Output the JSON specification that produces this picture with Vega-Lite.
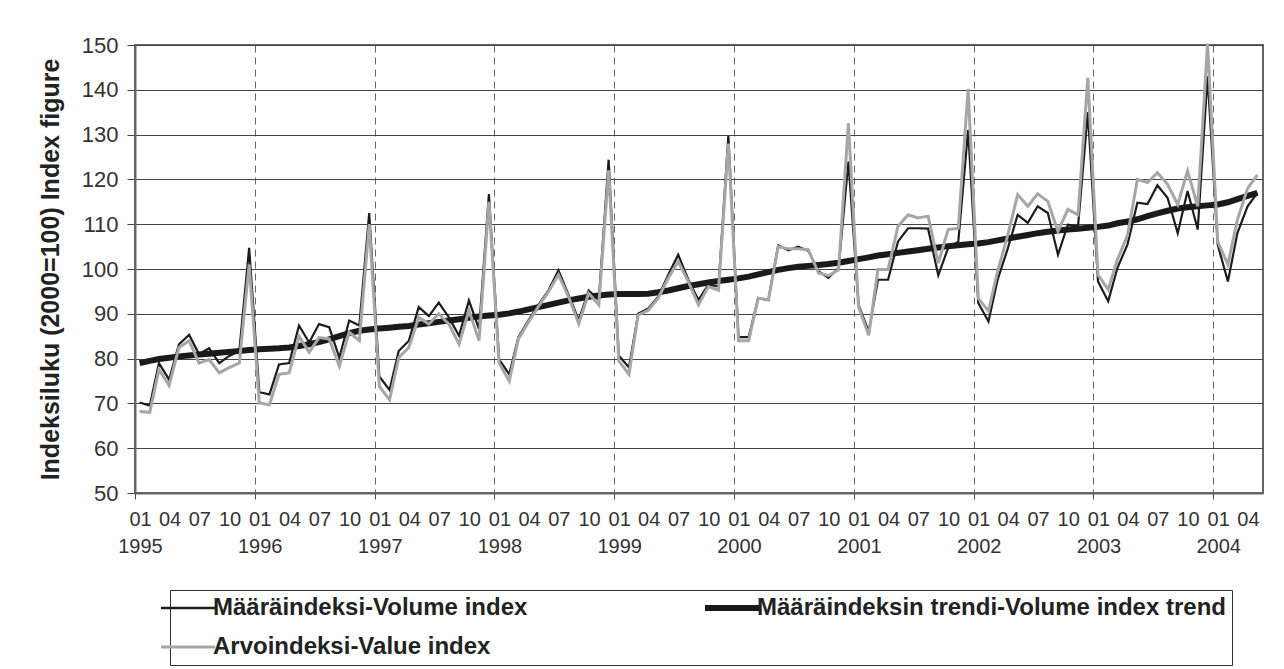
{
  "$schema": "https://vega.github.io/schema/vega-lite/v6.json",
  "autosize": "none",
  "width": 1128,
  "height": 448,
  "padding": {"left": 135, "top": 45, "right": 21, "bottom": 176},
  "background": "white",
  "config": {
    "font": "Liberation Sans",
    "view": {"stroke": "#666", "strokeWidth": 2}
  },
  "data": {"values": [
    {"d":"1995-01-15","vol":70.2,"val":68.2,"trend":79.0},
    {"d":"1995-02-15","vol":69.5,"val":68.0,"trend":79.5},
    {"d":"1995-03-15","vol":79.0,"val":77.6,"trend":79.9},
    {"d":"1995-04-15","vol":75.3,"val":74.0,"trend":80.2},
    {"d":"1995-05-15","vol":83.2,"val":82.5,"trend":80.5},
    {"d":"1995-06-15","vol":85.3,"val":84.0,"trend":80.7},
    {"d":"1995-07-15","vol":81.0,"val":79.0,"trend":80.9},
    {"d":"1995-08-15","vol":82.3,"val":79.8,"trend":81.1},
    {"d":"1995-09-15","vol":79.0,"val":76.8,"trend":81.3},
    {"d":"1995-10-15","vol":80.6,"val":78.0,"trend":81.5},
    {"d":"1995-11-15","vol":81.7,"val":79.0,"trend":81.7},
    {"d":"1995-12-15","vol":104.7,"val":101.0,"trend":81.9},
    {"d":"1996-01-15","vol":72.5,"val":70.1,"trend":82.1},
    {"d":"1996-02-15","vol":72.0,"val":69.7,"trend":82.2},
    {"d":"1996-03-15","vol":78.7,"val":76.5,"trend":82.3},
    {"d":"1996-04-15","vol":79.0,"val":76.8,"trend":82.5},
    {"d":"1996-05-15","vol":87.4,"val":85.0,"trend":82.8},
    {"d":"1996-06-15","vol":83.6,"val":81.4,"trend":83.2},
    {"d":"1996-07-15","vol":87.7,"val":84.7,"trend":83.7},
    {"d":"1996-08-15","vol":87.0,"val":84.4,"trend":84.3},
    {"d":"1996-09-15","vol":80.2,"val":78.3,"trend":85.0},
    {"d":"1996-10-15","vol":88.5,"val":85.9,"trend":85.7},
    {"d":"1996-11-15","vol":87.4,"val":84.0,"trend":86.2},
    {"d":"1996-12-15","vol":112.5,"val":110.0,"trend":86.5},
    {"d":"1997-01-15","vol":76.0,"val":73.8,"trend":86.7},
    {"d":"1997-02-15","vol":73.0,"val":70.8,"trend":86.9},
    {"d":"1997-03-15","vol":81.7,"val":80.2,"trend":87.1},
    {"d":"1997-04-15","vol":84.0,"val":82.5,"trend":87.3},
    {"d":"1997-05-15","vol":91.5,"val":89.2,"trend":87.6},
    {"d":"1997-06-15","vol":89.5,"val":87.7,"trend":87.9},
    {"d":"1997-07-15","vol":92.5,"val":90.0,"trend":88.2},
    {"d":"1997-08-15","vol":89.2,"val":87.7,"trend":88.5},
    {"d":"1997-09-15","vol":85.1,"val":83.2,"trend":88.8},
    {"d":"1997-10-15","vol":93.0,"val":90.8,"trend":89.1},
    {"d":"1997-11-15","vol":86.6,"val":84.0,"trend":89.4},
    {"d":"1997-12-15","vol":116.7,"val":115.0,"trend":89.6},
    {"d":"1998-01-15","vol":79.8,"val":79.0,"trend":89.8},
    {"d":"1998-02-15","vol":76.5,"val":75.0,"trend":90.1},
    {"d":"1998-03-15","vol":84.8,"val":84.4,"trend":90.5},
    {"d":"1998-04-15","vol":88.6,"val":88.2,"trend":91.0},
    {"d":"1998-05-15","vol":92.0,"val":91.6,"trend":91.5},
    {"d":"1998-06-15","vol":95.3,"val":95.0,"trend":92.0},
    {"d":"1998-07-15","vol":99.7,"val":98.7,"trend":92.5},
    {"d":"1998-08-15","vol":94.2,"val":93.8,"trend":93.0},
    {"d":"1998-09-15","vol":88.6,"val":87.8,"trend":93.4},
    {"d":"1998-10-15","vol":95.2,"val":94.6,"trend":93.8},
    {"d":"1998-11-15","vol":93.1,"val":92.0,"trend":94.1},
    {"d":"1998-12-15","vol":124.4,"val":122.0,"trend":94.3},
    {"d":"1999-01-15","vol":80.7,"val":79.5,"trend":94.4},
    {"d":"1999-02-15","vol":78.0,"val":76.5,"trend":94.4},
    {"d":"1999-03-15","vol":90.0,"val":89.7,"trend":94.4},
    {"d":"1999-04-15","vol":91.2,"val":90.8,"trend":94.5},
    {"d":"1999-05-15","vol":93.8,"val":93.5,"trend":94.8},
    {"d":"1999-06-15","vol":98.7,"val":98.0,"trend":95.2},
    {"d":"1999-07-15","vol":103.2,"val":101.7,"trend":95.7},
    {"d":"1999-08-15","vol":97.6,"val":97.2,"trend":96.2},
    {"d":"1999-09-15","vol":93.1,"val":92.0,"trend":96.6},
    {"d":"1999-10-15","vol":96.5,"val":96.1,"trend":97.0},
    {"d":"1999-11-15","vol":96.1,"val":95.3,"trend":97.3},
    {"d":"1999-12-15","vol":129.7,"val":128.0,"trend":97.6},
    {"d":"2000-01-15","vol":84.8,"val":84.0,"trend":97.9},
    {"d":"2000-02-15","vol":84.8,"val":84.0,"trend":98.3},
    {"d":"2000-03-15","vol":93.5,"val":93.5,"trend":98.8},
    {"d":"2000-04-15","vol":93.1,"val":93.1,"trend":99.3},
    {"d":"2000-05-15","vol":105.3,"val":105.0,"trend":99.8},
    {"d":"2000-06-15","vol":104.2,"val":104.5,"trend":100.2},
    {"d":"2000-07-15","vol":105.0,"val":104.5,"trend":100.5},
    {"d":"2000-08-15","vol":104.0,"val":104.3,"trend":100.7},
    {"d":"2000-09-15","vol":99.5,"val":99.1,"trend":100.9},
    {"d":"2000-10-15","vol":98.0,"val":98.5,"trend":101.1},
    {"d":"2000-11-15","vol":100.2,"val":99.8,"trend":101.4},
    {"d":"2000-12-15","vol":124.0,"val":132.5,"trend":101.8},
    {"d":"2001-01-15","vol":92.0,"val":91.5,"trend":102.2},
    {"d":"2001-02-15","vol":86.0,"val":85.2,"trend":102.6},
    {"d":"2001-03-15","vol":97.6,"val":99.9,"trend":103.0},
    {"d":"2001-04-15","vol":97.6,"val":99.9,"trend":103.3},
    {"d":"2001-05-15","vol":106.1,"val":109.5,"trend":103.6},
    {"d":"2001-06-15","vol":109.1,"val":112.1,"trend":103.9},
    {"d":"2001-07-15","vol":109.1,"val":111.4,"trend":104.2},
    {"d":"2001-08-15","vol":109.0,"val":111.8,"trend":104.5},
    {"d":"2001-09-15","vol":98.6,"val":101.3,"trend":104.8},
    {"d":"2001-10-15","vol":104.7,"val":108.8,"trend":105.1},
    {"d":"2001-11-15","vol":106.1,"val":109.1,"trend":105.3},
    {"d":"2001-12-15","vol":131.0,"val":140.2,"trend":105.5},
    {"d":"2002-01-15","vol":92.4,"val":93.5,"trend":105.7},
    {"d":"2002-02-15","vol":88.3,"val":90.6,"trend":106.0},
    {"d":"2002-03-15","vol":97.6,"val":99.5,"trend":106.4},
    {"d":"2002-04-15","vol":104.6,"val":107.6,"trend":106.8},
    {"d":"2002-05-15","vol":112.1,"val":116.6,"trend":107.2},
    {"d":"2002-06-15","vol":110.3,"val":114.0,"trend":107.6},
    {"d":"2002-07-15","vol":114.0,"val":116.8,"trend":108.0},
    {"d":"2002-08-15","vol":112.5,"val":115.1,"trend":108.3},
    {"d":"2002-09-15","vol":103.2,"val":108.4,"trend":108.6},
    {"d":"2002-10-15","vol":109.9,"val":113.3,"trend":108.8},
    {"d":"2002-11-15","vol":109.5,"val":112.1,"trend":109.0},
    {"d":"2002-12-15","vol":135.0,"val":142.7,"trend":109.2},
    {"d":"2003-01-15","vol":97.2,"val":98.7,"trend":109.4},
    {"d":"2003-02-15","vol":92.8,"val":95.4,"trend":109.7},
    {"d":"2003-03-15","vol":100.2,"val":102.1,"trend":110.2},
    {"d":"2003-04-15","vol":105.5,"val":107.5,"trend":110.6},
    {"d":"2003-05-15","vol":114.8,"val":120.0,"trend":111.1},
    {"d":"2003-06-15","vol":114.5,"val":119.3,"trend":111.8},
    {"d":"2003-07-15","vol":118.7,"val":121.5,"trend":112.4},
    {"d":"2003-08-15","vol":115.9,"val":118.9,"trend":113.0},
    {"d":"2003-09-15","vol":108.0,"val":114.4,"trend":113.5},
    {"d":"2003-10-15","vol":117.4,"val":121.9,"trend":113.8},
    {"d":"2003-11-15","vol":108.8,"val":114.0,"trend":114.0},
    {"d":"2003-12-15","vol":143.0,"val":150.3,"trend":114.2},
    {"d":"2004-01-15","vol":105.4,"val":106.1,"trend":114.4},
    {"d":"2004-02-15","vol":97.2,"val":101.0,"trend":114.9},
    {"d":"2004-03-15","vol":108.0,"val":111.0,"trend":115.6},
    {"d":"2004-04-15","vol":114.0,"val":118.0,"trend":116.3},
    {"d":"2004-05-15","vol":117.0,"val":121.0,"trend":117.0}
  ]},
  "transform": [
    {"fold": ["vol", "trend", "val"], "as": ["series", "v"]}
  ],
  "encoding": {
    "x": {
      "field": "d", "type": "temporal",
      "scale": {"type": "utc", "domain": [{"year": 1995, "month": 1, "date": 1, "utc": true}, {"year": 2004, "month": 6, "date": 1, "utc": true}]},
      "axis": {
        "title": null,
        "tickCount": {"interval": "month", "step": 3},
        "labelExpr": "[utcFormat(datum.value, '%m'), utcmonth(datum.value) == 0 ? utcFormat(datum.value, '%Y') : '']",
        "labelFontSize": 20,
        "labelColor": "#333",
        "labelLineHeight": 27,
        "labelOffset": 5,
        "labelPadding": 10,
        "labelOverlap": false,
        "labelFlush": false,
        "labelAngle": 0,
        "tickSize": 6,
        "tickColor": "#444",
        "tickOpacity": {"condition": {"test": "utcmonth(datum.value) == 0", "value": 1}, "value": 0},
        "grid": true,
        "gridColor": "#666",
        "gridDash": [7, 5],
        "gridWidth": 1,
        "gridOpacity": {"condition": {"test": "utcmonth(datum.value) == 0", "value": 1}, "value": 0},
        "domainColor": "#666",
        "domainWidth": 2
      }
    },
    "y": {
      "field": "v", "type": "quantitative",
      "scale": {"domain": [50, 150], "nice": false, "zero": false},
      "axis": {
        "title": "Indeksiluku (2000=100)  Index figure",
        "titleFontSize": 25,
        "titleFontWeight": "bold",
        "titleColor": "#222",
        "titlePadding": 18,
        "values": [50, 60, 70, 80, 90, 100, 110, 120, 130, 140, 150],
        "labelFontSize": 22,
        "labelColor": "#333",
        "labelPadding": 9,
        "tickSize": 8,
        "tickColor": "#444",
        "grid": true,
        "gridColor": "#444",
        "gridWidth": 1,
        "domainColor": "#666",
        "domainWidth": 2
      }
    },
    "color": {
      "field": "series", "type": "nominal",
      "scale": {"domain": ["vol", "val", "trend"], "range": ["#1c1c1c", "#a6a6a6", "#1a1a1a"]},
      "legend": {
        "orient": "none",
        "legendX": 35,
        "legendY": 545,
        "title": null,
        "columns": 2,
        "columnPadding": 165,
        "rowPadding": 15,
        "padding": 6,
        "strokeColor": "#333",
        "symbolType": "stroke",
        "symbolSize": 2916,
        "symbolStrokeWidth": 2.5,
        "labelOffset": 13,
        "labelFontSize": 24,
        "labelFontWeight": "bold",
        "labelColor": "#222",
        "labelLimit": 700,
        "labelExpr": "datum.label == 'vol' ? 'Määräindeksi-Volume index' : datum.label == 'trend' ? 'Määräindeksin trendi-Volume index trend' : 'Arvoindeksi-Value index'",
        "encode": {"symbols": {"update": {"strokeWidth": {"signal": "datum.value == 'trend' ? 6 : datum.value == 'val' ? 3 : 2.5"}}}}
      }
    }
  },
  "layer": [
    {"transform": [{"filter": "datum.series == 'vol'"}], "mark": {"type": "line", "strokeWidth": 2.2}},
    {"transform": [{"filter": "datum.series == 'trend'"}], "mark": {"type": "line", "strokeWidth": 6}},
    {"transform": [{"filter": "datum.series == 'val'"}], "mark": {"type": "line", "strokeWidth": 3}}
  ]
}
